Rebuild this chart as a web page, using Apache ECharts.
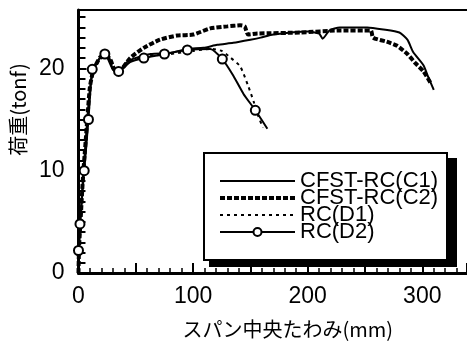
<!DOCTYPE html>
<html>
<head>
<meta charset="utf-8">
<script src="https://cdn.jsdelivr.net/npm/echarts@6/dist/echarts.min.js"></script>
<style>
  html, body { margin: 0; padding: 0; background: #fff; }
  #chart { width: 467px; height: 344px; }
</style>
</head>
<body>
<div id="chart"></div>
<script>
// load (tonf) vs mid-span deflection (mm)
const c1 = [[0,0],[0.5,2],[1.5,4.8],[4,9.5],[6,12.5],[8,15.5],[10,18],[13,19.7],[18,20.9],[23,21.4],[27,21],[30,19.9],[35,19.7],[41,20.5],[47,20.9],[63,21.4],[80,21.5],[95,21.9],[109,22],[121,22.3],[135,22.5],[150,22.8],[159,23],[170,23.3],[200,23.6],[210,23.4],[213,22.9],[219,23.7],[228,24],[252,24],[266,23.8],[280,23.5],[287,22.8],[292,21.6],[301,20.3],[305,19.2],[310,17.9]];
const c2 = [[0,0],[0.5,2.5],[2,5.5],[4,9.5],[6,12.5],[8,15.5],[10,18.2],[13,19.8],[19,21.1],[24,21.3],[28,20.8],[32,19.8],[36,19.8],[45,21],[57,22],[71,22.8],[86,23.2],[100,23.3],[115,23.9],[130,24.1],[141,24.2],[145,24.1],[148,23.3],[156,23.4],[194,23.5],[228,23.7],[255,23.7],[257,23],[269,22.6],[278,22.2],[287,21.4],[294,20.5],[301,19.7],[307,18.6]];
const d1 = [[0,0],[1,3],[2.5,6],[4.5,10],[6.5,13],[8.5,16],[10.5,18.5],[13,19.8],[19,20.9],[24,21.2],[28,20.7],[31,19.8],[36,19.9],[45,20.7],[62,21.2],[80,21.4],[100,21.7],[115,21.9],[125,21.7],[132,21.1],[141,20.2],[148,18.3],[153,16.7],[157,15.3],[161,14.2]];
const d2 = [[0,0],[0,2.2],[1.3,4.8],[5,10],[8.7,15],[10.5,18],[12,19.9],[18,20.9],[23,21.4],[30,19.9],[35,19.7],[45,20.6],[57,21],[75,21.4],[95,21.8],[115,21.9],[125.5,20.9],[135,19.3],[144,17.5],[154.3,15.9],[164.8,14.1]];
const d2Marked = [1,2,3,4,6,8,10,12,13,14,16,19];   // points drawn with a circle
const names = ['CFST-RC(C1)', 'CFST-RC(C2)', 'RC(D1)', 'RC(D2)'];

const chart = echarts.init(document.getElementById('chart'), null, { renderer: 'canvas' });

const numFont = 'Liberation Sans';
const jpFont = "'Noto Sans CJK JP'";
const noMark = { opacity: 0 };

chart.setOption({
  animation: false,
  grid: { left: 78, right: 0, top: 10, bottom: 62 },
  xAxis: [{
    type: 'value', min: 0, max: 339, interval: 50,
    name: 'スパン中央たわみ(mm)', nameLocation: 'middle', nameGap: 46,
    nameTextStyle: { fontFamily: jpFont, fontSize: 20, color: '#000', padding: [0, 0, 0, 30] },
    axisLine: { lineStyle: { color: '#000', width: 3 } },
    axisTick: { inside: true, length: 10, lineStyle: { color: '#000', width: 2 } },
    minorTick: { show: true, splitNumber: 5, length: 5, lineStyle: { color: '#000', width: 1.5 } },
    axisLabel: {
      fontFamily: numFont, fontSize: 23, color: '#000', margin: 12, showMaxLabel: false,
      formatter: v => (v % 100 === 0 ? String(v) : '')
    },
    splitLine: { show: false }
  }, {
    type: 'value', min: 0, max: 339, position: 'top',
    axisLine: { show: true, onZero: false, lineStyle: { color: '#000', width: 2 } },
    axisTick: { show: false }, axisLabel: { show: false }, splitLine: { show: false }
  }],
  yAxis: {
    type: 'value', min: 0, max: 25.7, interval: 10,
    name: '荷重(tonf)', nameLocation: 'middle', nameGap: 50,
    nameTextStyle: { fontFamily: jpFont, fontSize: 20, color: '#000', padding: [0, 0, 0, 64] },
    axisLine: { show: true, lineStyle: { color: '#000', width: 3 } },
    axisTick: { inside: true, length: 8, lineStyle: { color: '#000', width: 2 } },
    minorTick: { show: true, splitNumber: 10, length: 7, lineStyle: { color: '#000', width: 2 } },
    axisLabel: { fontFamily: numFont, fontSize: 23, color: '#000', margin: 14, showMaxLabel: false },
    splitLine: { show: false }
  },
  legend: {
    left: 218, top: 170, orient: 'vertical', z: 10, padding: 0,
    itemWidth: 75, itemHeight: 10, itemGap: -5,
    textStyle: { fontFamily: numFont, fontSize: 22, lineHeight: 16, color: '#000' },
    data: [
      { name: names[0], itemStyle: noMark, lineStyle: { width: 2, type: 'solid' } },
      { name: names[1], itemStyle: noMark, lineStyle: { width: 4, type: [5, 2] } },
      { name: names[2], itemStyle: noMark, lineStyle: { width: 2, type: [3, 4] } },
      { name: names[3] }
    ]
  },
  graphic: [
    { type: 'rect', z: 5, shape: { x: 209, y: 158, width: 248, height: 109 }, style: { fill: '#000' } },
    { type: 'rect', z: 6, shape: { x: 204, y: 153, width: 243, height: 107 }, style: { fill: '#fff', stroke: '#000', lineWidth: 2 } }
  ],
  series: [{
    name: names[0], type: 'line', data: c1, symbol: 'none', smooth: 0.2,
    lineStyle: { color: '#000', width: 2 }, itemStyle: { color: '#000' }
  }, {
    name: names[1], type: 'line', data: c2, symbol: 'none', smooth: 0.2,
    lineStyle: { color: '#000', width: 4, type: [5, 2] }, itemStyle: { color: '#000' }
  }, {
    name: names[2], type: 'line', data: d1, symbol: 'none', smooth: 0.2,
    lineStyle: { color: '#000', width: 2, type: [3, 4] }, itemStyle: { color: '#000' }
  }, {
    name: names[3], type: 'line', smooth: 0.2,
    data: d2.map((p, i) => (d2Marked.includes(i) ? p : { value: p, symbol: 'none' })),
    symbol: 'emptyCircle', symbolSize: 9,
    lineStyle: { color: '#000', width: 2 },
    itemStyle: { color: '#000', borderColor: '#000', borderWidth: 2 }
  }]
});
</script>
</body>
</html>
